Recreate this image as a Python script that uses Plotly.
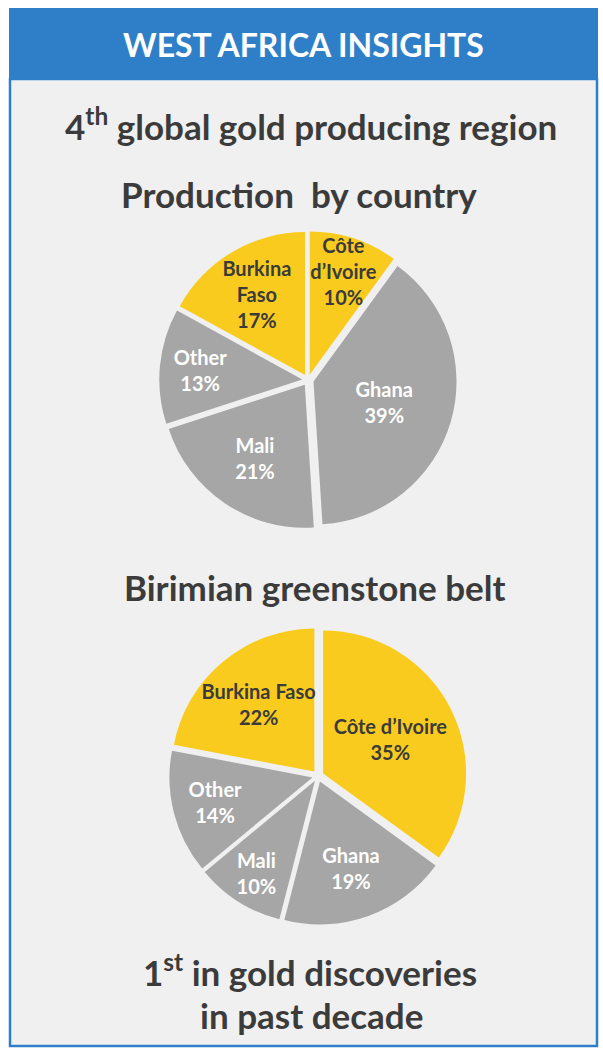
import plotly.graph_objects as go

W, H = 603, 1052

# ---- data ----
prod_countries = ["Côte d’Ivoire", "Ghana", "Mali", "Other", "Burkina Faso"]
prod_labels = ["Côte<br>d’Ivoire", "Ghana", "Mali", "Other", "Burkina<br>Faso"]
prod_values = [10, 39, 21, 13, 17]

belt_countries = ["Côte d’Ivoire", "Ghana", "Mali", "Other", "Burkina Faso"]
belt_labels = ["Côte d’Ivoire", "Ghana", "Mali", "Other", "Burkina Faso"]
belt_values = [35, 19, 10, 14, 22]

YELLOW = "#F9CB1F"
GRAY = "#A6A6A6"
BLUE = "#2F7FC8"
DARK = "#3B3B3B"
FONT = "Lato"

def slice_colors(names):
    return [YELLOW if n in ("Côte d’Ivoire", "Burkina Faso") else GRAY for n in names]

def text_colors(names):
    return [DARK if n in ("Côte d’Ivoire", "Burkina Faso") else "white" for n in names]

def px_x(x):
    return x / W

def px_y(y):
    return 1 - y / H

def pie_domain(cx, cy, r, pull):
    half = r * (1 + pull)
    return dict(x=[px_x(cx - half), px_x(cx + half)],
                y=[px_y(cy + half), px_y(cy - half)])

PULL = 0.04
LABEL_SIZE = 20
fig = go.Figure()

fig.add_trace(go.Pie(
    labels=prod_countries, values=prod_values, text=prod_labels,
    sort=False, direction="clockwise", rotation=0,
    pull=[PULL] * len(prod_values),
    marker=dict(colors=slice_colors(prod_countries), line=dict(width=0)),
    texttemplate="%{text}<br>%{value}%", textposition="inside",
    insidetextorientation="horizontal",
    textfont=dict(family=FONT, size=LABEL_SIZE, weight="bold", color=text_colors(prod_countries)),
    hoverinfo="label+percent", showlegend=False,
    domain=pie_domain(308, 380, 143, PULL),
))

fig.add_trace(go.Pie(
    labels=belt_countries, values=belt_values, text=belt_labels,
    sort=False, direction="clockwise", rotation=0,
    pull=[PULL] * len(belt_values),
    marker=dict(colors=slice_colors(belt_countries), line=dict(width=0)),
    texttemplate="%{text}<br>%{value}%", textposition="inside",
    insidetextorientation="horizontal",
    textfont=dict(family=FONT, size=LABEL_SIZE, weight="bold", color=text_colors(belt_countries)),
    hoverinfo="label+percent", showlegend=False,
    domain=pie_domain(318, 776, 143, PULL),
))

shapes = [
    dict(type="rect", xref="paper", yref="paper",
         x0=px_x(10), x1=px_x(597), y0=px_y(1046), y1=px_y(79),
         fillcolor="#F0F0F0", line=dict(color=BLUE, width=2.5), layer="below"),
    dict(type="rect", xref="paper", yref="paper",
         x0=px_x(9), x1=px_x(598), y0=px_y(79), y1=px_y(8),
         fillcolor=BLUE, line=dict(width=0), layer="below"),
]

def ann(text, x, y, size, color=DARK):
    return dict(text=text, x=px_x(x), y=px_y(y), xref="paper", yref="paper",
                showarrow=False, xanchor="center", yanchor="middle",
                font=dict(family=FONT, size=size, color=color, weight="bold"))

annotations = [
    ann("WEST AFRICA INSIGHTS", 303, 44, 32, "white"),
    ann("4<sup>th</sup> global gold producing region", 311, 124, 35),
    ann("Production  by country", 299, 194, 35),
    ann("Birimian greenstone belt", 315, 587, 35),
    ann("1<sup>st</sup> in gold discoveries", 310, 970, 35),
    ann("in past decade", 311, 1015, 35),
]

fig.update_layout(
    width=W, height=H,
    margin=dict(l=0, r=0, t=0, b=0),
    paper_bgcolor="white", plot_bgcolor="white",
    shapes=shapes, annotations=annotations,
    uniformtext=dict(minsize=LABEL_SIZE, mode="show"),
)

fig.write_html("out.html")
